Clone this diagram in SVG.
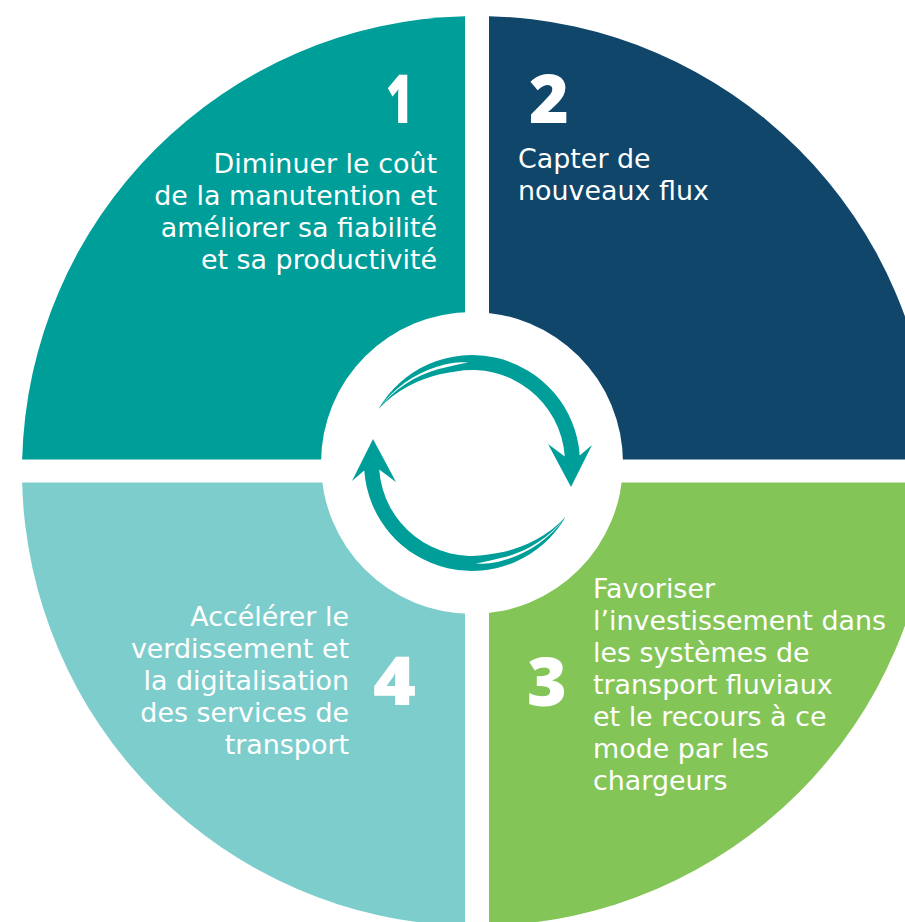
<svg xmlns="http://www.w3.org/2000/svg" xmlns:xlink="http://www.w3.org/1999/xlink" width="905" height="922" viewBox="0 0 905 922">
<style>
.lbl{font-family:"DejaVu Sans","Liberation Sans",sans-serif;font-size:26.9px;fill:#ffffff}
.num{font-family:"Open Sans","Inter",sans-serif;font-weight:800;font-size:68px;fill:#ffffff}
.end{text-anchor:end}
</style>
<defs>
<g id="arrow">
<path fill="#009e99" d="M378.47,409 A108,108 0 0 1 579.74,455.47 L592,445 L571,487 L548,444 L564.77,456.51 A93,93 0 0 0 455.85,371.41 L447.81,372.71 L439.73,374.35 L431.66,376.48 L423.6,379.17 L415.62,382.48 L407.74,386.42 L400.02,391.02 L392.54,396.32 L385.33,402.31 Z"/>
<path fill="#ffffff" d="M468.49,362.56 L461.42,362.31 L454.32,362.75 L445.54,364.24 L436.94,366.66 L428.5,369.71 L420.27,373.41 L412.35,377.81 L404.71,382.8 L397.47,388.47 L390.63,394.72 L384.31,401.6 L380.79,406.01 L384.56,401.77 L391.17,395.17 L398.18,389.18 L405.61,383.88 L413.32,379.2 L421.32,375.23 L429.51,371.89 L437.86,369.2 L446.31,367.14 L454.77,365.31 L461.57,363.8 Z"/>
</g>
</defs>
<rect width="905" height="922" fill="#ffffff"/>
<g id="q1">
<path fill="#009e99" d="M465,459.5 L465,16.16 A455,455 0 0 0 22.15,459.5 Z"/>
<text class="num" x="386" y="123" textLength="27" lengthAdjust="spacingAndGlyphs">1</text>
<text class="lbl end" x="437" y="172.5">Diminuer le coût</text>
<text class="lbl end" x="437" y="204.5">de la manutention et</text>
<text class="lbl end" x="437" y="236.5">améliorer sa fiabilité</text>
<text class="lbl end" x="437" y="268.5">et sa productivité</text>
</g>
<g id="q2">
<path fill="#0f466a" d="M489,459.5 L489,16.16 A455,455 0 0 1 931.85,459.5 Z"/>
<text class="num" x="529" y="123">2</text>
<text class="lbl" x="518" y="168">Capter de</text>
<text class="lbl" x="518" y="200">nouveaux flux</text>
</g>
<g id="q3">
<path fill="#84c557" d="M489,482.5 L931.85,482.5 A455,455 0 0 1 489,925.84 Z"/>
<text class="num" x="527" y="706">3</text>
<text class="lbl" x="593" y="598">Favoriser</text>
<text class="lbl" x="593" y="630">l’investissement dans</text>
<text class="lbl" x="593" y="662">les systèmes de</text>
<text class="lbl" x="593" y="694">transport fluviaux</text>
<text class="lbl" x="593" y="726">et le recours à ce</text>
<text class="lbl" x="593" y="758">mode par les</text>
<text class="lbl" x="593" y="790">chargeurs</text>
</g>
<g id="q4">
<path fill="#7ecdcd" d="M465,482.5 L465,925.84 A455,455 0 0 1 22.15,482.5 Z"/>
<text class="num" x="373" y="705" textLength="43" lengthAdjust="spacingAndGlyphs">4</text>
<text class="lbl end" x="349" y="626">Accélérer le</text>
<text class="lbl end" x="349" y="658">verdissement et</text>
<text class="lbl end" x="349" y="690">la digitalisation</text>
<text class="lbl end" x="349" y="722">des services de</text>
<text class="lbl end" x="349" y="754">transport</text>
</g>
<g id="center">
<circle cx="472" cy="463" r="151" fill="#ffffff"/>
</g>
<g id="connectors">
<use xlink:href="#arrow"/>
<use xlink:href="#arrow" transform="rotate(180 472 463)"/>
</g>
</svg>
